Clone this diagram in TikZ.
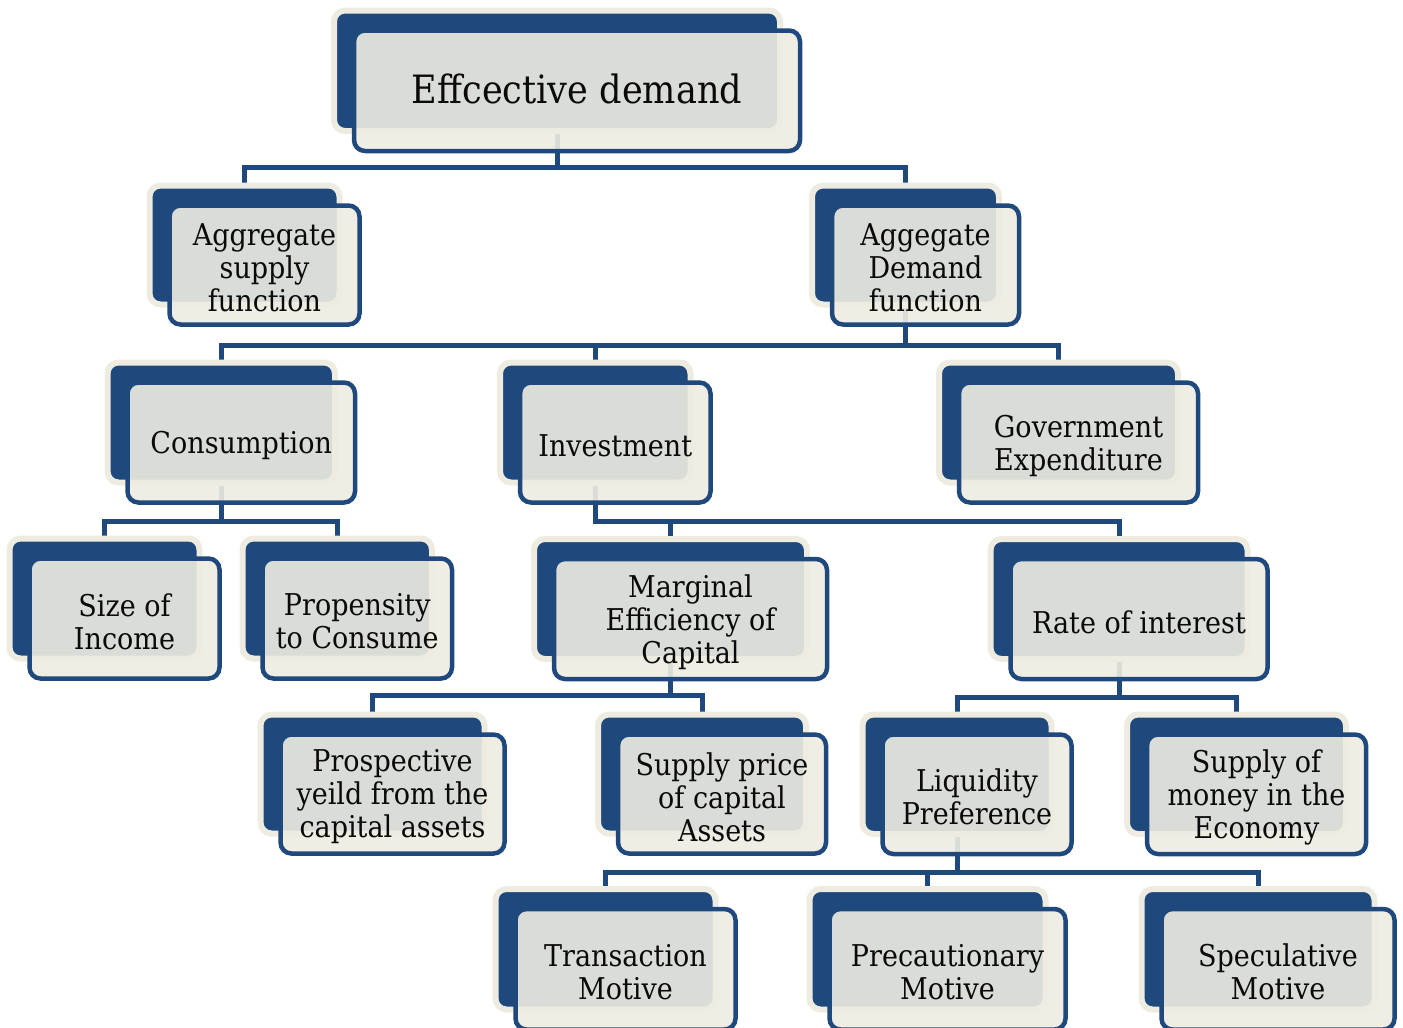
\documentclass[tikz,border=0pt]{standalone}
\usepackage{fontspec}
\setmainfont{DejaVu Serif}[FakeStretch=0.9]
\definecolor{dblue}{RGB}{31,73,125}
\definecolor{cream}{RGB}{238,236,225}
\definecolor{txt}{RGB}{10,10,10}
\pgfdeclarelayer{bg}
\pgfsetlayers{bg,main}
\tikzset{
  backbox/.style={draw=cream, fill=dblue, line width=6pt, rounded corners=11pt, inner sep=0pt},
  frontbox/.style={draw=dblue, fill=cream, fill opacity=0.9, line width=4.5pt, rounded corners=11pt, inner sep=0pt},
  boxlabel/.style={inner sep=0pt, align=center, text=txt, font=\fontsize{30}{33}\selectfont, yshift=-3pt},
  titlefont/.style={font=\fontsize{39}{44}\selectfont, yshift=5pt},
  connline/.style={draw=dblue, line width=5pt}
}
\newcommand\mybox[6][]{%
  \pgfmathsetmacro\mbw{#5-#3}\pgfmathsetmacro\mbh{#6-#4}%
  \pgfmathsetmacro\mbx{(#3+#5)/2}\pgfmathsetmacro\mby{(#4+#6)/2}%
  \node[backbox, minimum width=\mbw pt, minimum height=\mbh pt] (#2) at (\mbx,\mby) {};%
  \node[frontbox, minimum width=\mbw pt, minimum height=\mbh pt] (#2f) at (\mbx+20,\mby+20) {};%
  \node[boxlabel, #1] (#2t) at (#2f.center) {\boxtext};%
}
\newcommand\conn[3]{\draw[connline] (#1.south) -- (#1.south |- #3) -| (#2.north);}
\begin{document}
\begin{tikzpicture}[x=1pt,y=-1pt]
\useasboundingbox (0,0) rectangle (1403,1028);
\def\boxtext{Effcective demand}\mybox[titlefont]{ed}{334}{10.5}{780}{131}
\def\boxtext{Aggregate\\supply\\function}\mybox{as}{149.5}{185.5}{339.5}{304.5}
\def\boxtext{Aggegate\\Demand\\function}\mybox{ad}{812}{185.5}{999}{304.5}
\def\boxtext{Consumption}\mybox{cons}{107.5}{362.5}{335}{482.5}
\def\boxtext{Investment}\mybox{inv}{500}{362.5}{690.5}{482.5}
\def\boxtext{Government\\Expenditure}\mybox{gov}{939}{362.5}{1178}{482.5}
\def\boxtext{Size of\\Income}\mybox{size}{9.5}{538.5}{199.5}{658.5}
\def\boxtext{Propensity\\to Consume}\mybox{prop}{242.5}{538.5}{432}{658.5}
\def\boxtext{Marginal\\Efficiency of\\Capital}\mybox{mec}{534}{539}{807}{659}
\def\boxtext{Rate of interest}\mybox{rate}{990.5}{539}{1247.5}{659}
\def\boxtext{Prospective\\yeild from the\\capital assets}\mybox{pros}{260.5}{714.5}{484.5}{833.5}
\def\boxtext{Supply price\\of capital\\Assets}\mybox{spc}{598}{714.5}{806}{833.5}
\def\boxtext{Liquidity\\Preference}\mybox{liq}{862.5}{714.5}{1051.5}{834}
\def\boxtext{Supply of\\money in the\\Economy}\mybox{smo}{1127}{714.5}{1346}{834}
\def\boxtext{Transaction\\Motive}\mybox{tra}{495.5}{889}{715.5}{1009.5}
\def\boxtext{Precautionary\\Motive}\mybox{pre}{809.5}{889}{1045.5}{1009.5}
\def\boxtext{Speculative\\Motive}\mybox{spe}{1141.5}{889}{1374.5}{1009.5}
\coordinate (busA) at (0,167);
\coordinate (busB) at (0,345);
\coordinate (busC) at (0,521);
\coordinate (busD) at (0,695);
\coordinate (busE) at (0,697);
\coordinate (busF) at (0,872);
\begin{pgfonlayer}{bg}
\conn{ed}{as}{busA}
\conn{ed}{ad}{busA}
\conn{ad}{cons}{busB}
\conn{ad}{inv}{busB}
\conn{ad}{gov}{busB}
\conn{cons}{size}{busC}
\conn{cons}{prop}{busC}
\conn{inv}{mec}{busC}
\conn{inv}{rate}{busC}
\conn{mec}{pros}{busD}
\conn{mec}{spc}{busD}
\conn{rate}{liq}{busE}
\conn{rate}{smo}{busE}
\conn{liq}{tra}{busF}
\conn{liq}{pre}{busF}
\conn{liq}{spe}{busF}
\end{pgfonlayer}
\end{tikzpicture}
\end{document}
